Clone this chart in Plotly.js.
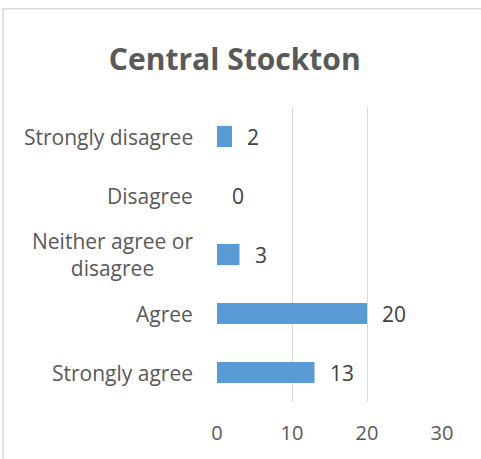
<!DOCTYPE html>
<html>
<head>
<meta charset="utf-8">
<script src="https://cdn.plot.ly/plotly-3.0.1.min.js"></script>
<style>html,body{margin:0;padding:0;background:#fff;}#chart{width:481px;height:459px;}</style>
</head>
<body>
<div id="chart"></div>
<script>
const categories = ["Strongly agree", "Agree", "Neither agree or<br>disagree", "Disagree", "Strongly disagree"];
const values = [13, 20, 3, 0, 2];
const xTicks = [0, 10, 20, 30];
const chartTitle = "Central Stockton";

const FONT = "Open Sans, Lato, sans-serif";
const GREY = "#595959";

const trace = {
  type: "bar",
  orientation: "h",
  x: values,
  y: categories,
  marker: {color: "#5B9BD5"},
  hoverinfo: "skip"
};

const annotations = [];
categories.forEach((c, i) => {
  annotations.push({
    x: values[i], y: c, xref: "x", yref: "y",
    text: String(values[i]), showarrow: false,
    xanchor: "left", xshift: 13,
    font: {family: FONT, size: 21, color: "#404040"}
  });
  annotations.push({
    x: 0, y: c, xref: "paper", yref: "y",
    text: c, showarrow: false, align: "center",
    xanchor: "right", xshift: -22,
    font: {family: FONT, size: 21, color: GREY}
  });
});

const layout = {
  width: 481, height: 459,
  margin: {l: 217, r: 39, t: 107, b: 57},
  paper_bgcolor: "#fff", plot_bgcolor: "#fff",
  showlegend: false,
  bargap: 0.64,
  title: {
    text: "<b>" + chartTitle + "</b>",
    x: 0.488, xref: "container", xanchor: "center",
    y: 0.87, yref: "container", yanchor: "middle",
    font: {family: FONT, size: 30, color: GREY}
  },
  xaxis: {
    range: [0, 30], tickvals: xTicks, ticktext: xTicks.map(String),
    showgrid: true, gridcolor: "#d9d9d9", gridwidth: 1,
    zeroline: false, showline: false, ticks: "",
    ticklabelstandoff: 17,
    tickfont: {family: FONT, size: 20, color: GREY},
    fixedrange: true
  },
  yaxis: {
    type: "category", categoryorder: "array", categoryarray: categories,
    showticklabels: false, showgrid: false, zeroline: false, showline: false,
    ticks: "", fixedrange: true
  },
  annotations: annotations,
  shapes: [
    {type: "line", xref: "paper", yref: "paper", x0: -0.951, x1: 1.3, y0: 1.333, y1: 1.333,
     line: {color: "#d9d9d9", width: 1.5}},
    {type: "line", xref: "paper", yref: "paper", x0: -0.951, x1: -0.951, y0: 1.333, y1: -0.3,
     line: {color: "#d9d9d9", width: 1.5}}
  ]
};

Plotly.newPlot("chart", [trace], layout, {displayModeBar: false, staticPlot: true});
</script>
</body>
</html>
